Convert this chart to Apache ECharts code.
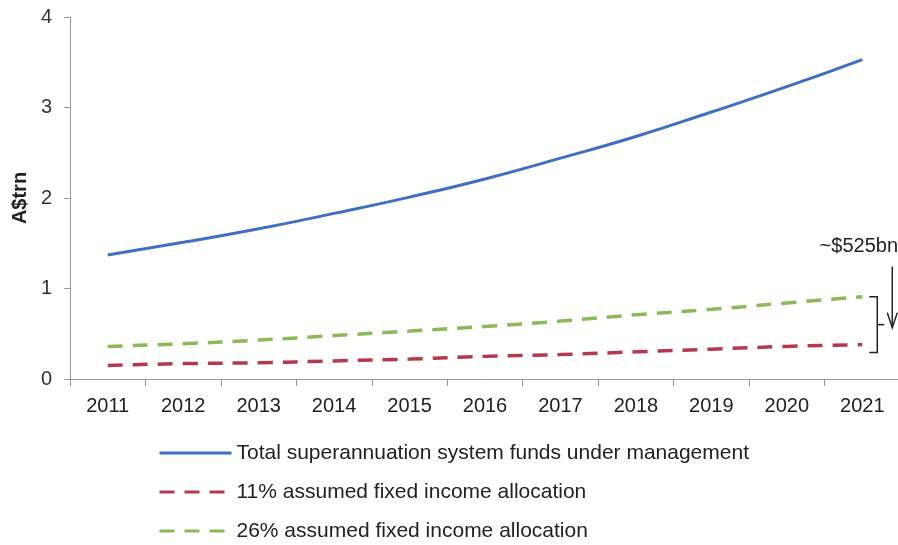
<!DOCTYPE html>
<html><head><meta charset="utf-8">
<script src="https://cdn.jsdelivr.net/npm/echarts@6/dist/echarts.min.js"></script>
<style>html,body{margin:0;padding:0;background:#fff}#c{width:898px;height:545px}</style>
</head><body><div id="c"></div>
<script>
const years = ['2011','2012','2013','2014','2015','2016','2017','2018','2019','2020','2021'];
const totalFum = [1.37,1.51,1.66,1.83,2.01,2.21,2.44,2.68,2.95,3.23,3.53];
const alloc11 = [0.15,0.17,0.18,0.20,0.22,0.25,0.27,0.30,0.33,0.36,0.38];
const alloc26 = [0.36,0.39,0.43,0.48,0.53,0.58,0.64,0.71,0.77,0.84,0.91];
const yTicks = [0,1,2,3,4];
const names = ['Total superannuation system funds under management','11% assumed fixed income allocation','26% assumed fixed income allocation'];
const annotation = '~$525bn';

const font = 'Liberation Sans, Arial, sans-serif';
const chart = echarts.init(document.getElementById('c'));
chart.setOption({
  animation:false,
  backgroundColor:'#fff',
  grid:{left:70,right:-2,top:17,bottom:166,containLabel:false,outerBoundsMode:'none'},
  legend:{
    orient:'vertical', left:158, top:442, height:110, padding:0, itemWidth:72, itemHeight:14, itemGap:17,
    itemStyle:{opacity:0},
    lineStyle:{width:3},
    textStyle:{fontFamily:font,fontSize:21,lineHeight:22,color:'#222',padding:[0,0,0,0]},
    data:names
  },
  xAxis:{
    type:'category', data:years, boundaryGap:true,
    axisLine:{lineStyle:{color:'#999',width:1}},
    axisTick:{show:true,length:7,lineStyle:{color:'#999'}},
    axisLabel:{fontFamily:font,fontSize:20,color:'#222',margin:17}
  },
  yAxis:{
    type:'value', min:0, max:4, interval:1,
    name:'A$trn', nameLocation:'middle', nameGap:40, nameRotate:90, nameMoveOverlap:false,
    nameTextStyle:{fontFamily:font,fontSize:20,fontWeight:'bold',color:'#222'},
    axisLine:{show:true,lineStyle:{color:'#999',width:1}},
    axisTick:{show:true,length:6,inside:false,lineStyle:{color:'#999'}},
    splitLine:{show:false},
    axisLabel:{fontFamily:font,fontSize:20,color:'#333',margin:18,
      formatter:v=>yTicks.includes(v)?String(v):''}
  },
  series:[
    {name:names[0],type:'line',data:totalFum,smooth:true,symbol:'none',
     lineStyle:{color:'#3f6fc0',width:3},itemStyle:{color:'#3f6fc0'}},
    {name:names[1],type:'line',data:alloc11,smooth:true,symbol:'none',
     lineStyle:{color:'#b3394e',width:3.5,type:[15,10]},itemStyle:{color:'#b3394e'}},
    {name:names[2],type:'line',data:alloc26,smooth:true,symbol:'none',
     lineStyle:{color:'#8cb857',width:3.5,type:[15,10]},itemStyle:{color:'#8cb857'}}
  ]
});
const last = years.length-1;
const pTop = chart.convertToPixel({gridIndex:0},[last, alloc26[last]]);
const pBot = chart.convertToPixel({gridIndex:0},[last, alloc11[last]]);
const bx = pTop[0]+15, by1 = pTop[1], by2 = pBot[1]+8, bm=(by1+by2)/2;
const ax = pTop[0]+30;
chart.setOption({graphic:[
  {type:'polyline',shape:{points:[[bx-8,by1],[bx,by1],[bx,by2],[bx-8,by2]]},style:{stroke:'#222',lineWidth:1.5,fill:null}},
  {type:'line',shape:{x1:bx,y1:bm,x2:bx+7,y2:bm},style:{stroke:'#222',lineWidth:1.5}},
  {type:'line',shape:{x1:ax,y1:by1-30,x2:ax,y2:bm+3},style:{stroke:'#222',lineWidth:1.5}},
  {type:'polyline',shape:{points:[[ax-5,bm-12],[ax,bm+3],[ax+5,bm-12]]},style:{stroke:'#222',lineWidth:1.5,fill:null}},
  {type:'text',style:{text:annotation,x:898,y:by1-50,align:'right',verticalAlign:'middle',font:'20px '+font,fill:'#222'}}
]});
</script></body></html>
